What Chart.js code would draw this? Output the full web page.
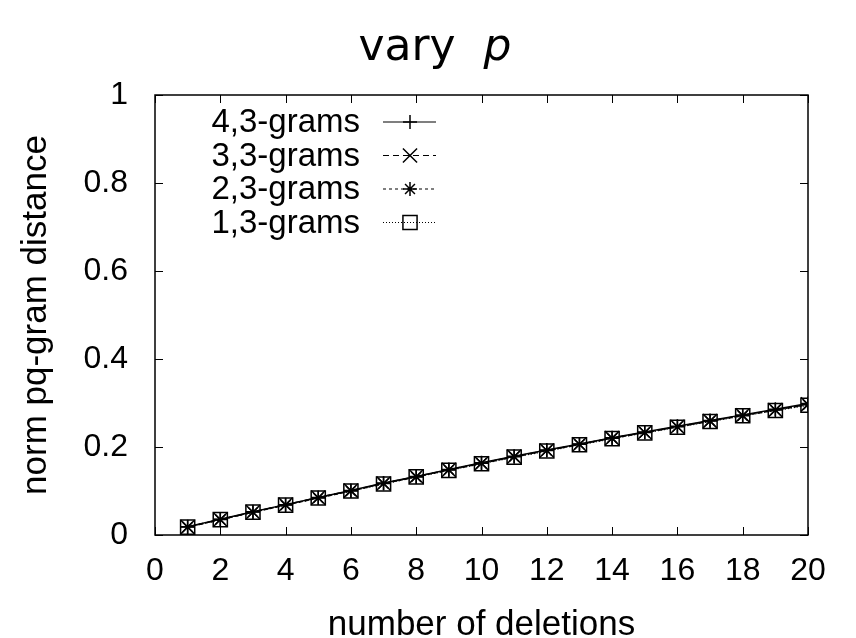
<!DOCTYPE html>
<html>
<head>
<meta charset="utf-8">
<script src="https://cdn.jsdelivr.net/npm/chart.js@4"></script>
<style>
  html, body { margin: 0; padding: 0; background: #fff; }
  #wrap { width: 856px; height: 638px; }
</style>
</head>
<body>
<div id="wrap"><canvas id="c"></canvas></div>
<script>
const deletions = [1,2,3,4,5,6,7,8,9,10,11,12,13,14,15,16,17,18,19,20];
const grams43 = [0.019,0.036,0.053,0.069,0.085,0.101,0.118,0.133,0.149,0.164,0.179,0.193,0.207,0.221,0.234,0.247,0.260,0.273,0.286,0.299];
const grams33 = [0.018,0.035,0.052,0.069,0.085,0.101,0.117,0.133,0.148,0.163,0.178,0.192,0.206,0.220,0.233,0.246,0.259,0.272,0.284,0.297];
const grams23 = [0.018,0.035,0.052,0.068,0.084,0.100,0.117,0.132,0.148,0.163,0.178,0.192,0.206,0.220,0.233,0.246,0.259,0.271,0.284,0.296];
const grams13 = [0.018,0.035,0.052,0.068,0.084,0.100,0.116,0.132,0.147,0.162,0.177,0.191,0.205,0.219,0.232,0.245,0.258,0.271,0.283,0.295];
const seriesNames = ["4,3-grams", "3,3-grams", "2,3-grams", "1,3-grams"];
const xTicks = [0,2,4,6,8,10,12,14,16,18,20];
const yTicks = [0,0.2,0.4,0.6,0.8,1];

const FONT = "'Liberation Sans', Arial, sans-serif";
const styles = [
  { dash: [], point: "cross", r: 7 },
  { dash: [6, 4], point: "crossRot", r: 10 },
  { dash: [3, 3], point: "star", r: 7 },
  { dash: [1, 2], point: "rect", r: 10 }
];
const seriesData = [grams43, grams33, grams23, grams13];

const datasets = seriesNames.map((name, i) => ({
  label: name,
  data: deletions.map((d, k) => ({ x: d, y: seriesData[i][k] })),
  borderColor: "#000",
  backgroundColor: "rgba(0,0,0,0)",
  borderWidth: 1.5,
  borderDash: styles[i].dash,
  pointStyle: styles[i].point,
  pointRadius: styles[i].r,
  pointBorderColor: "#000",
  pointBorderWidth: 1.5,
  pointBackgroundColor: "rgba(0,0,0,0)",
  tension: 0
}));

const framePlugin = {
  id: "frame",
  afterDraw(chart) {
    const ctx = chart.ctx;
    const a = chart.chartArea;
    const xs = chart.scales.x, ys = chart.scales.y;
    ctx.save();
    ctx.strokeStyle = "#000";
    ctx.lineWidth = 1.5;
    ctx.strokeRect(a.left, a.top, a.right - a.left, a.bottom - a.top);
    // inward ticks, mirrored on top and right
    ctx.lineWidth = 1;
    xTicks.forEach(v => {
      const px = Math.round(xs.getPixelForValue(v)) + 0.5;
      ctx.beginPath();
      ctx.moveTo(px, a.bottom); ctx.lineTo(px, a.bottom - 8);
      ctx.moveTo(px, a.top); ctx.lineTo(px, a.top + 8);
      ctx.stroke();
    });
    yTicks.forEach(v => {
      const py = Math.round(ys.getPixelForValue(v)) + 0.5;
      ctx.beginPath();
      ctx.moveTo(a.left, py); ctx.lineTo(a.left + 8, py);
      ctx.moveTo(a.right, py); ctx.lineTo(a.right - 8, py);
      ctx.stroke();
    });

    // title "vary p", p in italics
    ctx.fillStyle = "#000";
    ctx.textBaseline = "alphabetic";
    const TF = "'DejaVu Sans', sans-serif";
    const f1 = "44px " + TF, f2 = "italic 44px " + TF;
    ctx.font = f1;
    const w1 = ctx.measureText("vary  ").width;
    ctx.font = f2;
    const w2 = ctx.measureText("p").width;
    const tx = 435 - (w1 + w2) / 2;
    ctx.font = f1; ctx.textAlign = "left";
    ctx.fillText("vary  ", tx, 60);
    ctx.font = f2;
    ctx.fillText("p", tx + w1, 60);

    // legend: label right-aligned, then sample line + marker
    ctx.font = "33px " + FONT;
    ctx.textAlign = "right";
    ctx.textBaseline = "middle";
    chart.data.datasets.forEach((ds, i) => {
      const y = 122 + i * 33.5;
      ctx.fillStyle = "#000";
      ctx.fillText(ds.label, 360, y + 1);
      ctx.save();
      ctx.lineWidth = 1.2;
      ctx.setLineDash(ds.borderDash);
      ctx.beginPath();
      ctx.moveTo(383, y); ctx.lineTo(436, y);
      ctx.stroke();
      ctx.restore();
      ctx.strokeStyle = "#000";
      ctx.fillStyle = "rgba(0,0,0,0)";
      ctx.lineWidth = 1.5;
      Chart.helpers.drawPoint(ctx, { pointStyle: ds.pointStyle, radius: ds.pointRadius, borderWidth: 1.5, rotation: 0 }, 410, y);
    });
    ctx.restore();
  }
};

new Chart(document.getElementById("c").getContext("2d"), {
  type: "line",
  data: { datasets },
  options: {
    responsive: true,
    maintainAspectRatio: false,
    animation: false,
    layout: { padding: { top: 95, right: 48, left: 0, bottom: 0 } },
    plugins: {
      legend: { display: false },
      tooltip: { enabled: false }
    },
    scales: {
      x: {
        type: "linear",
        min: 0, max: 20,
        afterFit(s) { s.height = 103; },
        afterBuildTicks(s) { s.ticks = xTicks.map(v => ({ value: v })); },
        grid: { display: false, drawTicks: false },
        border: { display: false },
        ticks: { color: "#000", font: { family: FONT, size: 32 }, padding: 17, maxRotation: 0, autoSkip: false },
        title: { display: true, text: "number of deletions", color: "#000", font: { family: FONT, size: 35, lineHeight: 0.7 }, padding: 0 }
      },
      y: {
        type: "linear",
        min: 0, max: 1,
        afterFit(s) { s.width = 155; },
        afterBuildTicks(s) { s.ticks = yTicks.map(v => ({ value: v })); },
        grid: { display: false, drawTicks: false },
        border: { display: false },
        ticks: { color: "#000", font: { family: FONT, size: 32 }, padding: 27, callback: v => String(Math.round(v * 10) / 10) },
        title: { display: true, text: "norm pq-gram distance", color: "#000", font: { family: FONT, size: 35 }, padding: { top: 15, bottom: 0 } }
      }
    }
  },
  plugins: [framePlugin]
});
</script>
</body>
</html>
